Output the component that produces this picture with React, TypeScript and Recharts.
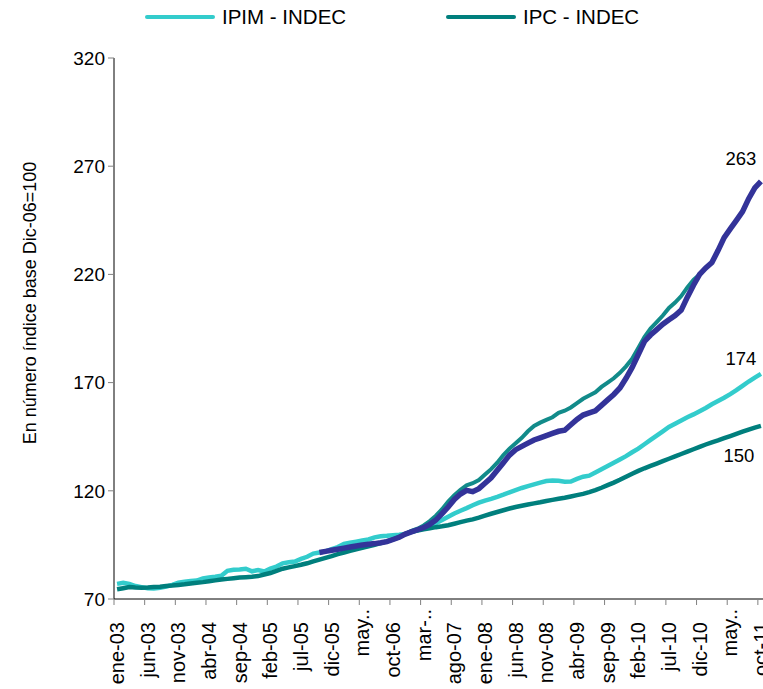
import React from 'react';
import { LineChart, Line, XAxis, YAxis, Legend } from 'recharts';

// months ene-03 .. oct-11
const MESES = ['ene', 'feb', 'mar', 'abr', 'may', 'jun', 'jul', 'ago', 'sep', 'oct', 'nov', 'dic'];
const N_MONTHS = 106;
const months = Array.from(
  { length: N_MONTHS },
  (_, i) => `${MESES[i % 12]}-${String(3 + Math.floor(i / 12)).padStart(2, '0')}`
);

const tickLabels = [
  'ene-03', 'jun-03', 'nov-03', 'abr-04', 'sep-04', 'feb-05', 'jul-05', 'dic-05', 'may..', 'oct-06', 'mar-..',
  'ago-07', 'ene-08', 'jun-08', 'nov-08', 'abr-09', 'sep-09', 'feb-10', 'jul-10', 'dic-10', 'may..', 'oct-11',
];
const yTicks = [70, 120, 170, 220, 270, 320];

const ipim = [
  77, 77.5, 77, 76, 75.5, 75, 74.8, 75.2, 75.7, 76.5,
  77.5, 78, 78.3, 78.5, 79.5, 80, 80.3, 80.7, 83, 83.5,
  83.6, 84, 82.8, 83.4, 82.7, 84, 85, 86.5, 87, 87.3,
  88.5, 89.5, 91, 91.5, 92, 93, 94, 95.5, 96, 96.5,
  97, 97.5, 98.5, 99, 99.2, 99.5, 99.7, 100, 101, 101.8,
  102.5, 103.5, 105, 106.5, 108, 109.5, 110.8, 112, 113.3, 114.5,
  115.5, 116.3, 117.2, 118.2, 119.3, 120.3, 121.3, 122.2, 123, 123.8,
  124.5, 124.8, 124.6, 124.2, 124.3, 125.5, 126.5, 127, 128.5, 130,
  131.5, 133, 134.5, 136, 137.8, 139.5, 141.5, 143.5, 145.5, 147.5,
  149.5, 151, 152.5, 154, 155.3, 156.8, 158.3, 160, 161.5, 163,
  164.7, 166.5, 168.5, 170.5, 172.3, 174,
];

const ipcIndec = [
  74.5, 75, 75.5, 75.3, 75.2, 75.3, 75.5, 75.7, 76, 76.2,
  76.5, 76.8, 77.2, 77.5, 77.8, 78.2, 78.6, 79, 79.3, 79.6,
  79.9, 80.1, 80.3, 80.6, 81.3, 82, 83, 84, 84.6, 85.2,
  85.8, 86.5, 87.4, 88.2, 89, 89.8, 90.7, 91.5, 92.3, 93,
  93.6, 94.3, 95, 95.8, 96.6, 97.5, 98.6, 100, 101.1, 101.6,
  102.2, 102.7, 103.2, 103.6, 104.1, 104.8, 105.5, 106.2, 106.8, 107.6,
  108.5, 109.4, 110.2, 111, 111.8, 112.5, 113.1, 113.7, 114.2, 114.7,
  115.3, 115.8, 116.3, 116.8, 117.4, 118, 118.6, 119.4, 120.3, 121.4,
  122.6, 123.8, 125.1, 126.5, 127.9, 129.2, 130.4, 131.5, 132.6, 133.7,
  134.8, 135.9, 137, 138.1, 139.2, 140.3, 141.4, 142.4, 143.3, 144.3,
  145.3, 146.3, 147.3, 148.3, 149.2, 150,
];

// dark blue series, from oct-05
const PROV_START = 33;
const ipcProvincias = [
  91.5, 92, 92.5, 93, 93.5, 94, 94.5,
  95, 95.3, 95.6, 96, 96.5, 97.5, 98.5, 100, 101, 102,
  103, 104.5, 106.5, 109.5, 112.5, 116, 118.5, 120.2, 119.6, 121,
  123.5, 126, 129.5, 133, 136.5, 139, 140.5, 142, 143.5, 144.5,
  145.5, 146.5, 147.5, 148, 150.5, 153, 155, 156, 157, 159.5,
  162, 164.5, 167.5, 172, 177, 183, 189, 192, 194.5, 197,
  199, 201, 203.5, 209.5, 215, 220, 223, 225.5, 231, 237,
  241, 245, 249, 255, 260, 263,
];

// teal series, dic-06 .. dic-10
const ALT_START = 47;
const ipcAlt = [
  100, 101.5, 102.5,
  104, 106, 108.5, 111.5, 115, 118, 120.5, 122.5, 123.5, 125,
  127.5, 130, 133, 136.5, 139.5, 142, 144.5, 147.5, 150, 151.5,
  152.8, 154, 156, 157, 158.5, 160.5, 162.5, 164, 165.5, 168,
  170, 172, 174.5, 177.5, 181, 186, 191, 195, 198, 201,
  204.5, 207, 210, 214, 217.5, 220,
];

const pick = (arr: number[], start: number, i: number) =>
  i >= start && i < start + arr.length ? arr[i - start] : null;

const data = months.map((mes, i) => ({
  mes,
  pos: i + 0.5,
  ipim: ipim[i],
  ipc: ipcIndec[i],
  prov: pick(ipcProvincias, PROV_START, i),
  alt: pick(ipcAlt, ALT_START, i),
}));

const FONT = '"Liberation Sans", Arial, sans-serif';
const TURQ = '#33cccc';
const TEAL = '#007f7d';
const TEAL2 = '#128b8a';
const NAVY = '#333399';

const legendItems = [
  { name: 'IPIM - INDEC', color: TURQ, x: 147 },
  { name: 'IPC - INDEC', color: TEAL, x: 448 },
];

const LegendBox = () => (
  <svg width={763} height={40}>
    {legendItems.map((it) => (
      <g key={it.name}>
        <line x1={it.x} x2={it.x + 66} y1={17} y2={17} stroke={it.color} strokeWidth={4} strokeLinecap="round" />
        <text x={it.x + 75} y={24} fontSize={20.5} fontFamily={FONT} fill="#000">
          {it.name}
        </text>
      </g>
    ))}
  </svg>
);

const MonthTick = (props: any) => {
  const { x, y, payload } = props;
  const label = tickLabels[Math.round(payload.value / 5)];
  const short = label.endsWith('..');
  return (
    <text
      transform={`translate(${x + 3},${y + (short ? 2 : 15)}) rotate(-90)`}
      textAnchor="end"
      dominantBaseline="central"
      fontSize={20}
      fontFamily={FONT}
      fill="#000"
    >
      {label}
    </text>
  );
};

const endLabel = (dx: number, dy: number) => (props: any) => {
  if (props.index !== N_MONTHS - 1 || props.value == null) return <g />;
  return (
    <text x={props.x + dx} y={props.y + dy} textAnchor="middle" dominantBaseline="central" fontSize={18.5} fontFamily={FONT} fill="#000">
      {Math.round(props.value)}
    </text>
  );
};

export default function App() {
  return (
    <div style={{ position: 'absolute', left: 0, top: 0, width: 763, height: 689, overflow: 'hidden', background: '#fff' }}>
      <LineChart width={764} height={689} data={data} margin={{ top: 58, right: 0, bottom: 0, left: 0 }}>
        <Legend
          layout="vertical"
          align="center"
          verticalAlign="middle"
          wrapperStyle={{ position: 'absolute', top: 0, left: 0, width: 763, height: 40 }}
          content={() => <LegendBox />}
        />
        <XAxis
          type="number"
          dataKey="pos"
          domain={[0, N_MONTHS]}
          ticks={tickLabels.map((_, k) => k * 5)}
          interval={0}
          height={90}
          tickSize={6}
          tick={<MonthTick />}
          axisLine={{ stroke: '#000' }}
          tickLine={{ stroke: '#808080' }}
        />
        <YAxis
          domain={[70, 320]}
          ticks={yTicks}
          interval={0}
          width={114}
          tickSize={6}
          tickMargin={3}
          tick={{ fontSize: 19, fill: '#000', fontFamily: FONT }}
          axisLine={{ stroke: '#000' }}
          tickLine={{ stroke: '#808080' }}
          label={{
            content: () => (
              <text transform="translate(30,303) rotate(-90)" textAnchor="middle" dominantBaseline="central" fontSize={18} fontFamily={FONT} fill="#000">
                En número índice base Dic-06=100
              </text>
            ),
          }}
        />
        <Line dataKey="ipim" stroke={TURQ} strokeWidth={4.5} dot={false} activeDot={false} isAnimationActive={false} label={endLabel(-20, -15)} />
        <Line dataKey="ipc" stroke={TEAL} strokeWidth={4.5} dot={false} activeDot={false} isAnimationActive={false} label={endLabel(-22, 30)} />
        <Line dataKey="alt" stroke={TEAL2} strokeWidth={4} dot={false} activeDot={false} isAnimationActive={false} />
        <Line dataKey="prov" stroke={NAVY} strokeWidth={5.5} dot={false} activeDot={false} isAnimationActive={false} label={endLabel(-20, -23)} />
      </LineChart>
    </div>
  );
}
